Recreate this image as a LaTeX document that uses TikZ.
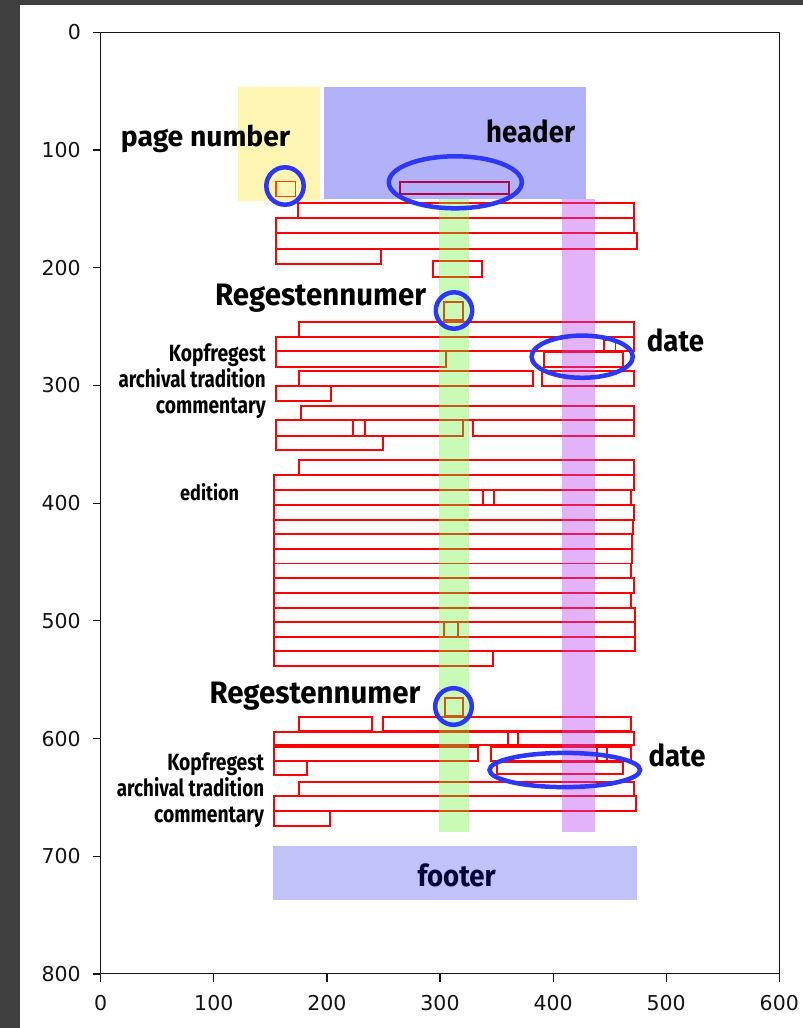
\documentclass[tikz,border=0pt]{standalone}
\usepackage{fontspec}
\usepackage{graphicx}
\newfontfamily\labfont{Fira Sans}
\newfontfamily\tickfont{DejaVu Sans}
\definecolor{bandgray}{RGB}{64,64,64}
\definecolor{ovyellow}{RGB}{255,222,0}
\definecolor{ovblue}{RGB}{0,0,240}
\definecolor{ovgreen}{RGB}{110,245,60}
\definecolor{ovpurple}{RGB}{187,67,242}
\definecolor{ringblue}{RGB}{45,55,250}
\definecolor{axisblack}{RGB}{20,20,20}
\newcommand\rb[4]{\draw[rr] (#1,#2) rectangle (#3,#4);}
\newcommand\hs[2]{\scalebox{#1}[1]{#2}}
\tikzset{
  rr/.style={draw=red, line width=1.7pt},
  ring/.style={draw=ringblue, line width=4.5pt},
  lab/.style={font={\labfont\fontsize{#1}{#1}\selectfont\bfseries}, inner sep=0pt},
  tick/.style={font={\tickfont\fontsize{20.5}{22}\selectfont}, inner sep=0pt, text=axisblack},
}
\begin{document}
\begin{tikzpicture}[x=1pt,y=-1pt]
\useasboundingbox (0,0) rectangle (803,1028);
\fill[white] (0,0) rectangle (803,1028);
\fill[bandgray] (0,0) rectangle (803,5);
\fill[bandgray] (0,0) rectangle (20,1028);
% red text-line boxes
\rb{276}{181.5}{295.5}{196.5}
\rb{400}{182.3}{508.7}{194.3}
\rb{298.3}{203.3}{634.3}{218.3}
\rb{276}{218.3}{634.3}{233.3}
\rb{276}{233.3}{637.3}{248.7}
\rb{276}{248.7}{381}{264.3}
\rb{433.3}{260.7}{482.3}{276.7}
\rb{444.3}{302.3}{462.7}{320}
\rb{299}{321.7}{634}{336.7}
\rb{276}{336.7}{634}{351.3}
\rb{604.3}{340}{615.5}{351.3}
\rb{276}{351.3}{445.7}{367.3}
\rb{543.7}{352.3}{622.7}{367.3}
\rb{299.3}{371}{533.3}{385.7}
\rb{541.7}{371}{634}{385.7}
\rb{276}{385.7}{330.7}{400.7}
\rb{300.7}{405.7}{634}{420.3}
\rb{276}{420.3}{353.3}{435.7}
\rb{353.3}{420.3}{365}{435.7}
\rb{365}{420.3}{462.7}{435.7}
\rb{473.3}{420.3}{634}{435.7}
\rb{276}{435.7}{382.7}{450.3}
\rb{299}{460}{634.3}{474.7}
\rb{274.3}{474.7}{634.3}{490}
\rb{274.3}{490}{483.3}{505}
\rb{494.3}{490}{631}{505}
\rb{274.3}{505}{634.3}{520}
\rb{274.3}{520}{633.3}{534.3}
\rb{274.3}{534.3}{632.3}{549}
\rb{274.3}{549}{632}{563.5}
\rb{274.3}{563.5}{631}{578.3}
\rb{274.3}{578.3}{634.3}{593.3}
\rb{274.3}{593.3}{631}{607.7}
\rb{274.3}{607.7}{635}{622.3}
\rb{274.3}{622.3}{444.3}{636.7}
\rb{444.3}{622.3}{457.7}{636.7}
\rb{457.7}{622.3}{635}{636.7}
\rb{274.3}{636.7}{635}{650.7}
\rb{274.3}{650.7}{492.7}{666}
\rb{445}{698.3}{463.3}{716}
\rb{299}{717.3}{371.7}{730.7}
\rb{382.7}{717.3}{630.7}{730.7}
\rb{274.3}{731.7}{508.3}{745.3}
\rb{508.3}{731.7}{518.3}{745.3}
\rb{518.3}{731.7}{634}{745.3}
\rb{274.3}{746.7}{478.3}{760.7}
\rb{491}{746.7}{596.7}{760.7}
\rb{596.7}{746.7}{606.7}{760.7}
\rb{606.7}{746.7}{630.7}{760.7}
\rb{274.3}{760.7}{306.7}{775}
\rb{496.7}{761.7}{623.3}{774.3}
\rb{299}{781.7}{634}{796}
\rb{274.3}{796}{636}{810.7}
\rb{274.3}{810.7}{330}{826}
% footer text under its box
\node[lab=30, anchor=base west] (footer) at (417.3,886.7) {\hs{0.92}{footer}};
% region overlays
\fill[ovyellow, opacity=0.3] (238.3,87.3) rectangle (320,200.5);
\fill[ovblue, opacity=0.3] (324.3,87.3) rectangle (586,199.3);
\fill[ovgreen, opacity=0.37] (439.3,199.3) rectangle (469,831.7);
\fill[ovpurple, opacity=0.4] (562,199.3) rectangle (595,831.7);
\fill[ovblue, opacity=0.24] (273.3,846) rectangle (637,900);
% rings
\draw[ring] (285,186) circle[radius=18.7pt];
\draw[ring] (455.3,182.3) ellipse[x radius=66.5pt, y radius=26pt];
\draw[ring] (454,310.5) circle[radius=18.2pt];
\draw[ring] (582.2,356.7) ellipse[x radius=50.6pt, y radius=21.1pt];
\draw[ring] (453.5,706.5) circle[radius=18.3pt];
\draw[ring] (564.8,770) ellipse[x radius=75.3pt, y radius=17.1pt];
% labels
\node[lab=28.3, anchor=base west] (pagenumber) at (120.7,146.7) {page number};
\node[lab=30, anchor=base west] (header) at (486,142.7) {\hs{0.92}{header}};
\node[lab=31, anchor=base west] (reg1) at (215,305) {\hs{0.95}{Regestennumer}};
\node[lab=30, anchor=base west] (date1) at (646.7,351.7) {\hs{0.92}{date}};
\node[lab=23.5, anchor=base east] (kopf1) at (266,361.7) {\hs{0.82}{Kopfregest}};
\node[lab=23.5, anchor=base east] (arch1) at (266,387.3) {\hs{0.80}{archival tradition}};
\node[lab=23.5, anchor=base east] (comm1) at (266,413) {\hs{0.82}{commentary}};
\node[lab=21, anchor=base west] (edition) at (180,500) {\hs{0.86}{edition}};
\node[lab=31, anchor=base west] (reg2) at (209.3,703.3) {\hs{0.95}{Regestennumer}};
\node[lab=23.5, anchor=base east] (kopf2) at (264.3,770) {\hs{0.82}{Kopfregest}};
\node[lab=23.5, anchor=base east] (arch2) at (264.3,796) {\hs{0.80}{archival tradition}};
\node[lab=23.5, anchor=base east] (comm2) at (264.3,822) {\hs{0.82}{commentary}};
\node[lab=30, anchor=base west] (date2) at (648.3,766) {\hs{0.92}{date}};
% axes
\draw[axisblack, line width=1.3pt] (100.7,32.3) rectangle (779.3,973.7);
\foreach \v in {0,100,...,800} {
  \pgfmathsetmacro\yy{32.3+1.1771*\v}
  \draw[axisblack, line width=1.2pt] (92.7,\yy) -- (100.7,\yy);
  \node[tick, anchor=east] at (81,\yy) {\v};
}
\foreach \v in {0,100,...,600} {
  \pgfmathsetmacro\xx{100.7+1.131*\v}
  \draw[axisblack, line width=1.2pt] (\xx,973.7) -- (\xx,981.7);
  \node[tick, anchor=north] at (\xx,995) {\v};
}
\end{tikzpicture}
\end{document}
